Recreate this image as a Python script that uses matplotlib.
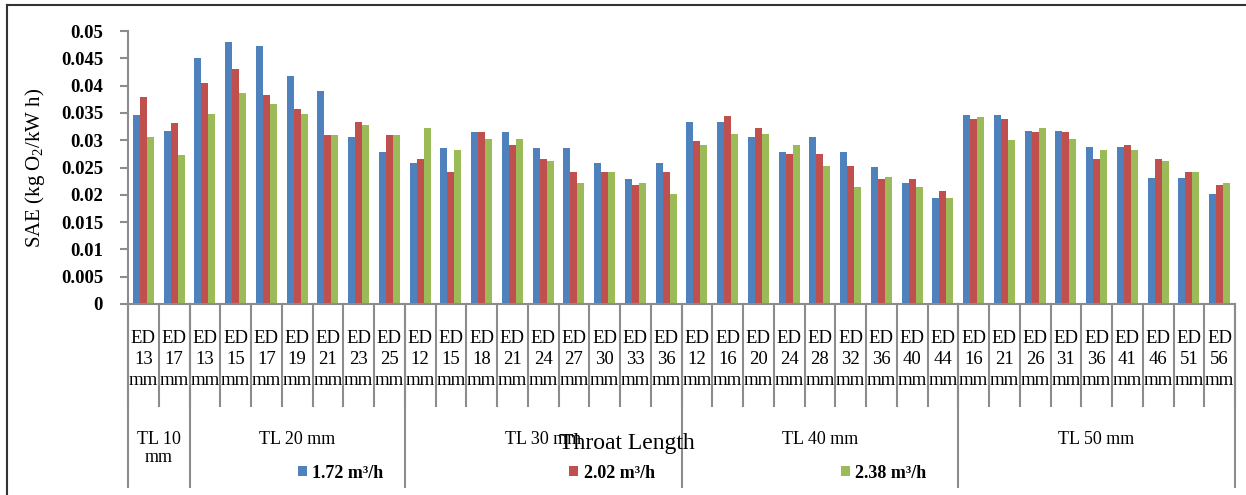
import matplotlib
matplotlib.use('Agg')
import matplotlib.pyplot as plt
from matplotlib.lines import Line2D
import numpy as np

plt.rcParams['font.family'] = ['Liberation Serif', 'DejaVu Serif']
plt.rcParams['mathtext.fontset'] = 'custom'
plt.rcParams['mathtext.rm'] = 'Liberation Serif'
plt.rcParams['mathtext.it'] = 'Liberation Serif:italic'
plt.rcParams['mathtext.bf'] = 'Liberation Serif:bold'

# throat length groups and exit diameters (mm)
groups = ['TL 10\nmm', 'TL 20 mm', 'TL 30 mm', 'TL 40 mm', 'TL 50 mm']
group_ed = [[13, 17],
            [13, 15, 17, 19, 21, 23, 25],
            [12, 15, 18, 21, 24, 27, 30, 33, 36],
            [12, 16, 20, 24, 28, 32, 36, 40, 44],
            [16, 21, 26, 31, 36, 41, 46, 51, 56]]

series = ['1.72 m³/h', '2.02 m³/h', '2.38 m³/h']
sae_172 = [0.0346, 0.0317,
           0.0451, 0.0480, 0.0473, 0.0418, 0.0390, 0.0306, 0.0278,
           0.0258, 0.0286, 0.0315, 0.0315, 0.0286, 0.0286, 0.0258, 0.0229, 0.0258,
           0.0333, 0.0333, 0.0306, 0.0278, 0.0306, 0.0278, 0.0251, 0.0222, 0.0194,
           0.0346, 0.0346, 0.0317, 0.0317, 0.0288, 0.0288, 0.0231, 0.0231, 0.0201]
sae_202 = [0.0379, 0.0332,
           0.0405, 0.0430, 0.0383, 0.0357, 0.0310, 0.0333, 0.0310,
           0.0266, 0.0242, 0.0315, 0.0291, 0.0266, 0.0242, 0.0242, 0.0218, 0.0242,
           0.0299, 0.0344, 0.0322, 0.0275, 0.0275, 0.0253, 0.0229, 0.0229, 0.0207,
           0.0339, 0.0339, 0.0315, 0.0315, 0.0266, 0.0291, 0.0266, 0.0242, 0.0218]
sae_238 = [0.0306, 0.0273,
           0.0348, 0.0386, 0.0366, 0.0348, 0.0310, 0.0328, 0.0310,
           0.0322, 0.0282, 0.0302, 0.0302, 0.0262, 0.0222, 0.0242, 0.0222, 0.0201,
           0.0291, 0.0311, 0.0311, 0.0291, 0.0253, 0.0214, 0.0233, 0.0214, 0.0194,
           0.0342, 0.0300, 0.0322, 0.0302, 0.0282, 0.0282, 0.0262, 0.0242, 0.0222]

yticks = [0, 0.005, 0.01, 0.015, 0.02, 0.025, 0.03, 0.035, 0.04, 0.045, 0.05]
ytick_labels = ['0', '0.005', '0.01', '0.015', '0.02', '0.025', '0.03', '0.035', '0.04', '0.045', '0.05']

colors = ['#4F81BD', '#C0504D', '#9BBB59']
gray = '#8C8C8C'

cat_labels = [f'ED\n{e}\nmm' for g in group_ed for e in g]
n = len(cat_labels)
x = np.arange(n)

W, H = 1246, 495
fig = plt.figure(figsize=(W / 100, H / 100), dpi=100)
ax = fig.add_axes([128 / W, 1 - 304 / H, (1235 - 128) / W, 273 / H])

bw = 0.225
bars = []
for k, vals in enumerate([sae_172, sae_202, sae_238]):
    b = ax.bar(x + (k - 1) * bw, vals, bw, color=colors[k], label=series[k])
    bars.append(b)

ax.set_xlim(-0.5, n - 0.5)
ax.set_ylim(0, 0.05)
ax.set_yticks(yticks)
ax.set_yticklabels(ytick_labels, fontsize=13.5, fontweight='bold')
ax.tick_params(axis='y', direction='out', length=6, width=1.5, color=gray, pad=12)
ax.set_xticks(x)
ax.set_xticklabels(cat_labels, fontsize=13.5, linespacing=1.3)
ax.tick_params(axis='x', length=0, pad=19)
for s in ['top', 'right']:
    ax.spines[s].set_visible(False)
for s in ['left', 'bottom']:
    ax.spines[s].set_color(gray)
    ax.spines[s].set_linewidth(1.5)
ax.set_ylabel('SAE (kg O$_\\mathrm{2}$/kW h)', fontsize=15, labelpad=10)

# category separators and group separators below the axis
tr = ax.get_xaxis_transform()
for k in range(n + 1):
    ax.plot([k - 0.5, k - 0.5], [0, -0.374], transform=tr, clip_on=False,
            color=gray, lw=1.5)
start = 0
bounds = [0]
for g in group_ed:
    start += len(g)
    bounds.append(start)
for b in bounds:
    ax.plot([b - 0.5, b - 0.5], [0, -0.67], transform=tr, clip_on=False,
            color=gray, lw=1.5)
for i, name in enumerate(groups):
    cx = (bounds[i] + bounds[i + 1]) / 2 - 0.5
    ax.text(cx, -0.465, name, transform=tr, ha='center', va='top',
            fontsize=13, linespacing=1.1)

fig.text(627 / W, 1 - 443 / H, 'Throat Length', fontsize=17, ha='center', va='center')

fig.legend(handles=bars, loc='center', bbox_to_anchor=(612 / W, 1 - 473 / H),
           ncol=3, frameon=False, columnspacing=10.3, handlelength=0.5,
           handleheight=0.5, handletextpad=0.3,
           prop={'family': 'Liberation Serif', 'weight': 'bold', 'size': 13})

# outer frame
fig.add_artist(Line2D([7 / W, 7 / W], [0, 1 - 5 / H], color='#333333', lw=1.5))
fig.add_artist(Line2D([7 / W, 1], [1 - 5 / H, 1 - 5 / H], color='#333333', lw=1.5))

fig.savefig('out.png', dpi=100)
